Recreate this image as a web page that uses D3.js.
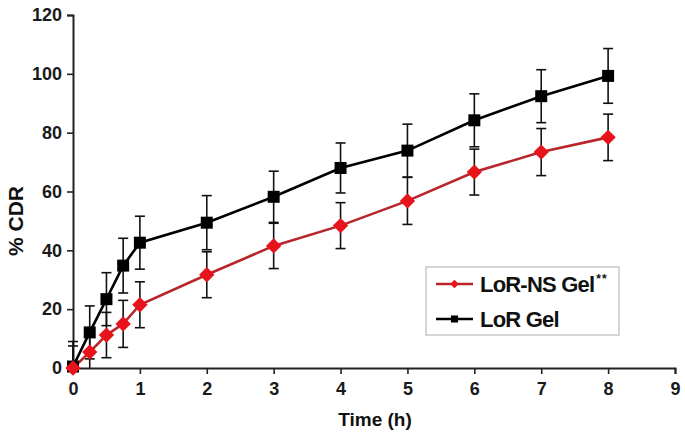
<!DOCTYPE html>
<html><head><meta charset="utf-8">
<script src="https://cdn.jsdelivr.net/npm/d3@7/dist/d3.min.js"></script>
<style>body{margin:0;background:#fff}svg{display:block;font-family:"Liberation Sans",Arial,sans-serif}</style>
</head><body><svg id="c" width="685" height="436"></svg>
<script>
const time = [0, 0.25, 0.5, 0.75, 1, 2, 3, 4, 5, 6, 7, 8];
const lorGel = [0.5, 12.1, 23.4, 34.8, 42.6, 49.4, 58.2, 68.0, 73.9, 84.2, 92.4, 99.3];
const lorGelErr = [8.5, 9, 9, 9.3, 9, 9.2, 8.7, 8.5, 9, 9, 9, 9.3];
const lorNsGel = [0, 5.4, 11.2, 15.0, 21.5, 31.7, 41.5, 48.4, 56.8, 66.6, 73.4, 78.4];
const lorNsGelErr = [7.5, 7.8, 7.7, 8, 7.8, 7.8, 7.7, 7.8, 8, 7.8, 8, 7.9];
const xTicks = [0,1,2,3,4,5,6,7,8,9];
const yTicks = [0,20,40,60,80,100,120];

const svg = d3.select("#c");
const x = d3.scaleLinear().domain([0,9]).range([73,675]);
const y = d3.scaleLinear().domain([0,120]).range([368,15]);

// axes
const xa = svg.append("g").attr("transform","translate(0,368)")
  .call(d3.axisBottom(x).tickValues(xTicks).tickSize(6).tickPadding(8).tickFormat(d3.format("d")));
const ya = svg.append("g").attr("transform","translate(73,0)")
  .call(d3.axisLeft(y).tickValues(yTicks).tickSize(6).tickPadding(5).tickFormat(d3.format("d")));
[xa,ya].forEach(a=>{
  a.select(".domain").attr("stroke","#222").attr("stroke-width",2);
  a.selectAll(".tick line").attr("stroke","#222").attr("stroke-width",1.6);
  a.selectAll(".tick text").attr("fill","#1a1a1a").attr("font-size",18).attr("font-weight","bold");
});

svg.append("text").attr("x",375).attr("y",426).attr("text-anchor","middle")
  .attr("font-size",19).attr("font-weight","bold").attr("fill","#111").text("Time (h)");
svg.append("text").attr("transform","translate(23,221) rotate(-90)").attr("text-anchor","middle")
  .attr("font-size",21).attr("font-weight","bold").attr("fill","#111").text("% CDR");

const series = [
  {vals: lorGel, err: lorGelErr, line:"#000", fill:"#000", shape:"square"},
  {vals: lorNsGel, err: lorNsGelErr, line:"#b8262b", fill:"#e8141c", shape:"diamond"}
];
const line = d3.line().x((d,i)=>x(time[i])).y(d=>y(d));

// error bars
series.forEach(s=>{
  const g = svg.append("g").attr("stroke","#111").attr("stroke-width",1.6);
  s.vals.forEach((v,i)=>{
    const cx = x(time[i]);
    g.append("line").attr("x1",cx).attr("x2",cx).attr("y1",y(v+s.err[i])).attr("y2",y(Math.max(0,v-s.err[i])));
    g.append("line").attr("x1",cx-5).attr("x2",cx+5).attr("y1",y(v+s.err[i])).attr("y2",y(v+s.err[i]));
    if (v-s.err[i] > 0)
      g.append("line").attr("x1",cx-5).attr("x2",cx+5).attr("y1",y(v-s.err[i])).attr("y2",y(v-s.err[i]));
  });
});
// lines + markers
series.slice().reverse().forEach(s=>{
  svg.append("path").datum(s.vals).attr("d",line).attr("fill","none")
    .attr("stroke",s.line).attr("stroke-width",2.6);
});
series.forEach(s=>{
  const sym = d3.symbol().type(s.shape==="square"?d3.symbolSquare:d3.symbolDiamond2).size(s.shape==="square"?144:150);
  svg.append("g").selectAll("path").data(s.vals).join("path")
    .attr("transform",(d,i)=>`translate(${x(time[i])},${y(d)})`)
    .attr("d",sym).attr("fill",s.fill);
});

// legend
const lg = svg.append("g");
lg.append("rect").attr("x",426).attr("y",267).attr("width",193).attr("height",68)
  .attr("fill","#fff").attr("stroke","#c8c8c8").attr("stroke-width",1.5);
const items = [
  {label:"LoR-NS Gel", sup:"**", line:"#b8262b", fill:"#e8141c", shape:"diamond", yy:284},
  {label:"LoR Gel", sup:"", line:"#000", fill:"#000", shape:"square", yy:319}
];
items.forEach(it=>{
  lg.append("line").attr("x1",436).attr("x2",473).attr("y1",it.yy).attr("y2",it.yy)
    .attr("stroke",it.line).attr("stroke-width",2.6);
  lg.append("path").attr("transform",`translate(454.5,${it.yy})`)
    .attr("d",d3.symbol().type(it.shape==="square"?d3.symbolSquare:d3.symbolDiamond2).size(it.shape==="square"?50:45))
    .attr("fill",it.fill);
  const t = lg.append("text").attr("x",480).attr("y",it.yy+8).attr("font-size",22).attr("font-weight","bold")
    .attr("fill","#111").attr("letter-spacing",-0.8).text(it.label);
  if (it.sup) t.append("tspan").attr("dx",2).attr("dy",-9).attr("font-size",12).attr("letter-spacing",1).text(it.sup);
});
</script></body></html>
